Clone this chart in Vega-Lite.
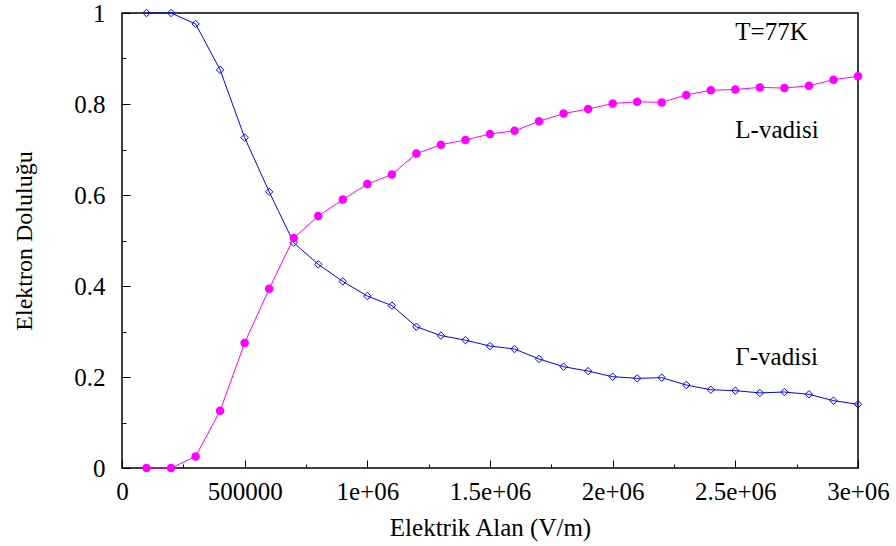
{
  "$schema": "https://vega.github.io/schema/vega-lite/v6.json",
  "autosize": {"type": "none"},
  "width": 736,
  "height": 455,
  "padding": {"left": 122, "top": 13, "right": 38, "bottom": 78},
  "background": "white",
  "config": {
    "view": {"stroke": "#000000", "strokeWidth": 1.5},
    "font": "Liberation Serif",
    "axis": {"labelFont": "Liberation Serif", "titleFont": "Liberation Serif", "labelColor": "#000", "titleColor": "#000", "titleFontWeight": "normal", "grid": false, "domain": false, "tickColor": "#000"}
  },
  "datasets": {
    "gamma": [
      {"x": 100000, "y": 1.0}, {"x": 200000, "y": 1.0}, {"x": 300000, "y": 0.976}, {"x": 400000, "y": 0.875},
      {"x": 500000, "y": 0.726}, {"x": 600000, "y": 0.607}, {"x": 700000, "y": 0.495}, {"x": 800000, "y": 0.4475},
      {"x": 900000, "y": 0.410}, {"x": 1000000, "y": 0.378}, {"x": 1100000, "y": 0.357}, {"x": 1200000, "y": 0.3105},
      {"x": 1300000, "y": 0.291}, {"x": 1400000, "y": 0.281}, {"x": 1500000, "y": 0.268}, {"x": 1600000, "y": 0.2615},
      {"x": 1700000, "y": 0.2396}, {"x": 1800000, "y": 0.2226}, {"x": 1900000, "y": 0.213}, {"x": 2000000, "y": 0.2007},
      {"x": 2100000, "y": 0.197}, {"x": 2200000, "y": 0.1985}, {"x": 2300000, "y": 0.1824}, {"x": 2400000, "y": 0.172},
      {"x": 2500000, "y": 0.170}, {"x": 2600000, "y": 0.165}, {"x": 2700000, "y": 0.167}, {"x": 2800000, "y": 0.162},
      {"x": 2900000, "y": 0.148}, {"x": 3000000, "y": 0.140}
    ],
    "lval": [
      {"x": 100000, "y": 0.0}, {"x": 200000, "y": 0.0}, {"x": 300000, "y": 0.0255}, {"x": 400000, "y": 0.126},
      {"x": 500000, "y": 0.275}, {"x": 600000, "y": 0.394}, {"x": 700000, "y": 0.5055}, {"x": 800000, "y": 0.554},
      {"x": 900000, "y": 0.590}, {"x": 1000000, "y": 0.624}, {"x": 1100000, "y": 0.645}, {"x": 1200000, "y": 0.691},
      {"x": 1300000, "y": 0.7105}, {"x": 1400000, "y": 0.721}, {"x": 1500000, "y": 0.734}, {"x": 1600000, "y": 0.741},
      {"x": 1700000, "y": 0.762}, {"x": 1800000, "y": 0.779}, {"x": 1900000, "y": 0.789}, {"x": 2000000, "y": 0.801},
      {"x": 2100000, "y": 0.805}, {"x": 2200000, "y": 0.8035}, {"x": 2300000, "y": 0.820}, {"x": 2400000, "y": 0.830},
      {"x": 2500000, "y": 0.832}, {"x": 2600000, "y": 0.8365}, {"x": 2700000, "y": 0.835}, {"x": 2800000, "y": 0.840},
      {"x": 2900000, "y": 0.8535}, {"x": 3000000, "y": 0.861}
    ],
    "labels": [
      {"x": 2500000, "y": 0.959, "text": "T=77K"},
      {"x": 2500000, "y": 0.743, "text": "L-vadisi"},
      {"x": 2500000, "y": 0.245, "text": "Γ-vadisi"}
    ]
  },
  "layer": [
    {
      "data": {"name": "gamma"},
      "mark": {"type": "line", "color": "#0000ff", "strokeWidth": 1, "point": {"shape": "diamond", "filled": false, "size": 55, "strokeWidth": 1, "color": "#0000ff"}},
      "encoding": {
        "x": {"field": "x", "type": "quantitative", "scale": {"domain": [0, 3000000], "nice": false, "zero": false},
          "axis": {"orient": "bottom", "title": "Elektrik Alan (V/m)",
            "values": [0,125000,250000,375000,500000,625000,750000,875000,1000000,1125000,1250000,1375000,1500000,1625000,1750000,1875000,2000000,2125000,2250000,2375000,2500000,2625000,2750000,2875000,3000000],
            "labelExpr": "datum.value % 500000 != 0 ? '' : datum.value < 1000000 ? format(datum.value, 'd') : replace(format(datum.value, '~g'), 'e+', 'e+0')",
            "tickSize": {"condition": {"test": "datum.value % 500000 != 0", "value": -4}, "value": -8},
            "tickWidth": 1, "labelPadding": 19, "labelFontSize": 25, "titleFontSize": 25, "titlePadding": 7, "labelFlush": false, "labelOverlap": false}},
        "y": {"field": "y", "type": "quantitative", "scale": {"domain": [0, 1], "nice": false, "zero": false},
          "axis": {"orient": "left", "title": "Elektron Doluluğu",
            "values": [0, 0.1, 0.2, 0.3, 0.4, 0.5, 0.6, 0.7, 0.8, 0.9, 1],
            "labelExpr": "round(datum.value * 10) % 2 == 1 ? '' : format(datum.value, '~g')",
            "tickSize": {"condition": {"test": "round(datum.value * 10) % 2 == 1", "value": -4}, "value": -8},
            "tickWidth": 1, "labelPadding": 25, "labelFontSize": 25, "titleFontSize": 24, "titlePadding": 37, "labelFlush": false, "labelOverlap": false}}
      }
    },
    {
      "data": {"name": "lval"},
      "mark": {"type": "line", "color": "#ff00ff", "strokeWidth": 1, "point": {"shape": "circle", "filled": true, "size": 72, "color": "#ff00ff"}},
      "encoding": {
        "x": {"field": "x", "type": "quantitative"},
        "y": {"field": "y", "type": "quantitative"}
      }
    },
    {
      "data": {"name": "labels"},
      "mark": {"type": "text", "align": "left", "baseline": "middle", "font": "Liberation Serif", "fontSize": 25, "color": "#000"},
      "encoding": {
        "x": {"field": "x", "type": "quantitative"},
        "y": {"field": "y", "type": "quantitative"},
        "text": {"field": "text"}
      }
    }
  ]
}
